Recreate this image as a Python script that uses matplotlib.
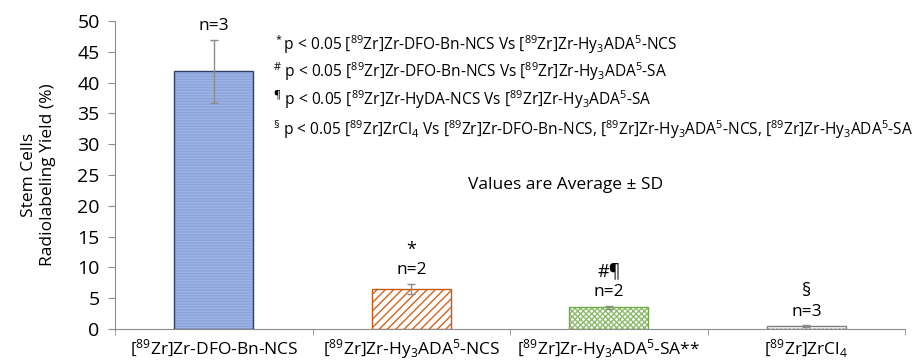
import matplotlib.pyplot as plt
import numpy as np

plt.rcParams['font.family'] = ['Open Sans', 'DejaVu Sans']
plt.rcParams['mathtext.fontset'] = 'custom'
plt.rcParams['mathtext.rm'] = 'Open Sans'
plt.rcParams['mathtext.default'] = 'regular'
plt.rcParams['hatch.linewidth'] = 1.0

# data
labels = [r"[$^{89}$Zr]Zr-DFO-Bn-NCS",
          r"[$^{89}$Zr]Zr-Hy$_3$ADA$^5$-NCS",
          r"[$^{89}$Zr]Zr-Hy$_3$ADA$^5$-SA**",
          r"[$^{89}$Zr]ZrCl$_4$"]
values = [41.8, 6.5, 3.5, 0.5]
errors = [5.1, 0.8, 0.3, 0.1]
n_labels = ["n=3", "n=2", "n=2", "n=3"]
sig_marks = ["", "*", "#¶", "§"]
notes = [r"$^*$p < 0.05 [$^{89}$Zr]Zr-DFO-Bn-NCS Vs [$^{89}$Zr]Zr-Hy$_3$ADA$^5$-NCS",
         r"$^\#$ p < 0.05 [$^{89}$Zr]Zr-DFO-Bn-NCS Vs [$^{89}$Zr]Zr-Hy$_3$ADA$^5$-SA",
         r"$^¶$ p < 0.05 [$^{89}$Zr]Zr-HyDA-NCS Vs [$^{89}$Zr]Zr-Hy$_3$ADA$^5$-SA",
         r"$^§$ p < 0.05 [$^{89}$Zr]ZrCl$_4$ Vs [$^{89}$Zr]Zr-DFO-Bn-NCS, [$^{89}$Zr]Zr-Hy$_3$ADA$^5$-NCS, [$^{89}$Zr]Zr-Hy$_3$ADA$^5$-SA"]

faces = ['#9fb4e2', 'white', 'white', 'white']
hatch_colors = ['#8aa3da', '#d0651f', '#8dbb6c', '#b0b0b0']
hatches = ['------', '////', 'xxxxxx', '....']
outlines = ['#2e3f66', '#c55a11', '#70ad47', '#7f7f7f']

fig = plt.figure(figsize=(9.2, 3.6), dpi=100)
ax = fig.add_axes([0.125, 0.086, 0.859, 0.856])

x = np.arange(len(values))
w = 0.4
ax.bar(x, values, w, color=faces, edgecolor=hatch_colors, hatch=hatches, linewidth=0, zorder=2)
ax.bar(x, values, w, fill=False, edgecolor=outlines, linewidth=1.0, zorder=3)
ax.errorbar(x, values, yerr=errors, fmt='none', ecolor='#8c8c8c', elinewidth=1, capsize=3, zorder=4)

for i in range(len(values)):
    top = values[i] + errors[i]
    ax.text(x[i], top + 2.2, n_labels[i], ha='center', va='center', fontsize=12.5)
    if sig_marks[i]:
        ax.text(x[i], top + 5.6, sig_marks[i], ha='center', va='center', fontsize=13)

note_y = [46.1, 41.7, 37.2, 32.3]
for ny, t in zip(note_y, notes):
    ax.text(0.30, ny, t, ha='left', va='center', fontsize=11.2)
ax.text(1.78, 23.4, "Values are Average ± SD", ha='center', va='center', fontsize=12.5)

ax.set_xlim(-0.5, 3.5)
ax.set_ylim(0, 50)
ax.set_yticks(np.arange(0, 51, 5))
ax.set_xticks(x)
ax.set_xticklabels(labels, fontsize=12.5)
ax.set_xticks(np.arange(-0.5, 3.6, 1), minor=True)
ax.tick_params(axis='x', which='major', length=0, pad=6)
ax.tick_params(axis='x', which='minor', length=4, direction='out', color='#8c8c8c')
ax.tick_params(axis='y', length=5, color='#8c8c8c', labelsize=14, pad=6)
for s in ['top', 'right']:
    ax.spines[s].set_visible(False)
for s in ['left', 'bottom']:
    ax.spines[s].set_color('#8c8c8c')
ax.set_ylabel("Stem Cells\nRadiolabeling Yield (%)", fontsize=12.5, labelpad=15, linespacing=1.3)

fig.savefig('out.png', dpi=100)
